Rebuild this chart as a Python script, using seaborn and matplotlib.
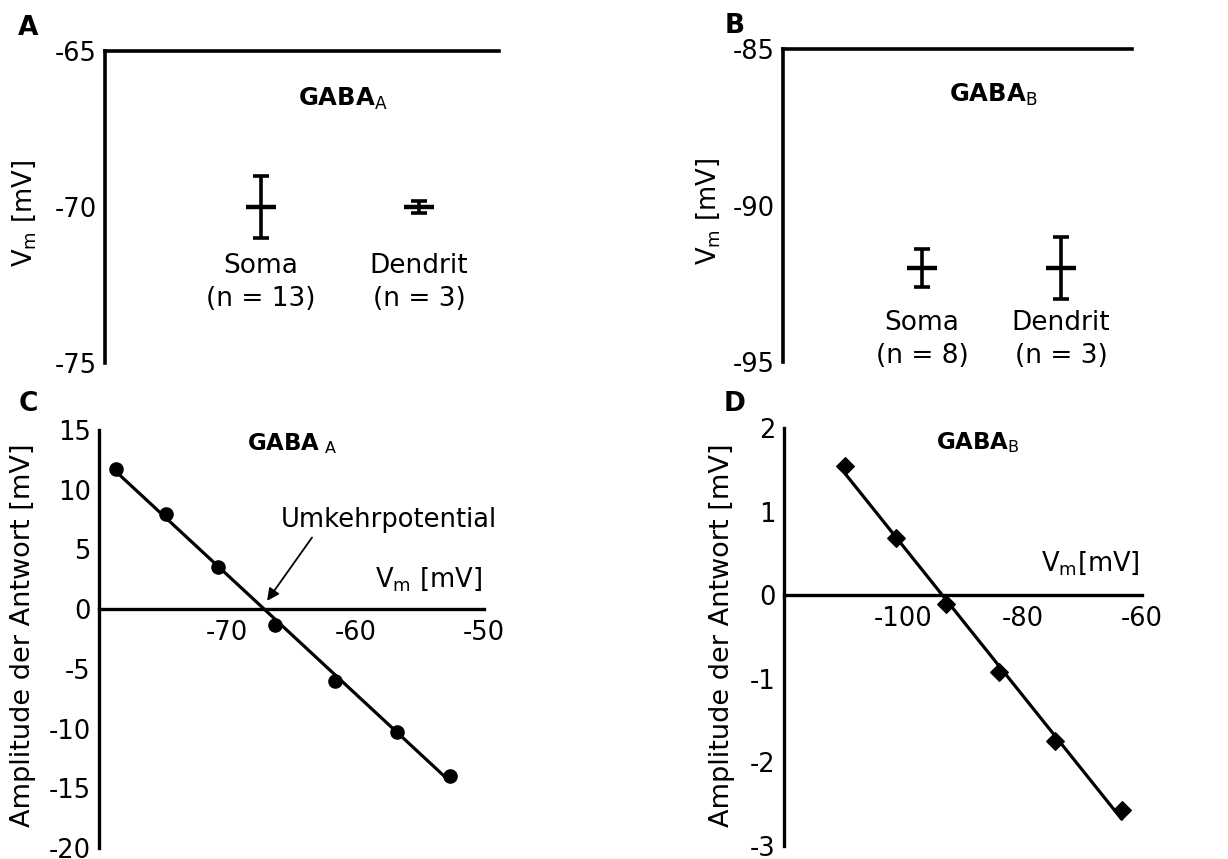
import numpy as np
import pandas as pd
import matplotlib
matplotlib.use("Agg")
import matplotlib.pyplot as plt
import seaborn as sns

# ---------------- data ----------------
sites = ["Soma", "Dendrit"]
n_a = [13, 3]
n_b = [8, 3]
mean_a = [-70.0, -70.0]
err_a = [1.0, 0.2]
mean_b = [-92.0, -92.0]
err_b = [0.6, 1.0]

vm_c = [-78.7, -74.8, -70.75, -66.25, -61.6, -56.8, -52.65]
amp_c = [11.75, 7.95, 3.5, -1.3, -6.0, -10.25, -13.95]

vm_d = [-109.7, -101.2, -92.8, -84.0, -74.5, -63.4]
amp_d = [1.54, 0.68, -0.11, -0.92, -1.75, -2.57]

ticks_a = [-75, -70, -65]
ticks_b = [-95, -90, -85]
yticks_c = [-20, -15, -10, -5, 0, 5, 10, 15]
xticks_c = [-70, -60, -50]
yticks_d = [-3, -2, -1, 0, 1, 2]
xticks_d = [-100, -80, -60]

sns.set_theme(style="white")
plt.rcParams["font.family"] = ["DejaVu Sans"]
plt.rcParams["mathtext.fontset"] = "dejavusans"
plt.rcParams["text.color"] = "black"
plt.rcParams["axes.labelcolor"] = "black"
plt.rcParams["xtick.color"] = "black"
plt.rcParams["ytick.color"] = "black"

W, H = 1228, 859
fig = plt.figure(figsize=(W / 100, H / 100), dpi=100)

def px_axes(l, r, t, b):
    return fig.add_axes([l / W, 1 - b / H, (r - l) / W, (b - t) / H])

TICK_FS = 18.5
VM_FS = 18.5
AMP_FS = 19.5
TXT_FS = 18.5
SPINE_LW = 2.6

def style_top(ax, yl, yt, xlim):
    ax.set_ylim(*yl)
    ax.set_xlim(*xlim)
    ax.set_yticks(yt)
    ax.set_yticklabels([str(v) for v in yt], fontsize=TICK_FS)
    ax.set_xticks([])
    for s in ["right", "bottom"]:
        ax.spines[s].set_visible(False)
    for s in ["left", "top"]:
        ax.spines[s].set_linewidth(SPINE_LW)
        ax.spines[s].set_color("black")
    ax.tick_params(axis="y", direction="in", length=4, width=2, pad=6, colors="black")
    ax.set_ylabel(r"V$_\mathrm{m}$ [mV]", fontsize=VM_FS)

def draw_err(ax, means, errs, ns, label_y):
    pos = np.arange(len(means))
    df = pd.DataFrame({"x": pos, "y": means})
    sns.scatterplot(data=df, x="x", y="y", marker="_", s=440, linewidth=3.2,
                    color="black", ax=ax, legend=False, zorder=3)
    ax.errorbar(pos, means, yerr=errs, fmt="none", ecolor="black",
                elinewidth=2.6, capsize=5.5, capthick=2.6, zorder=2)
    for p, s, n in zip(pos, sites, ns):
        ax.text(p, label_y, f"{s}\n(n = {n})", ha="center", va="center",
                fontsize=19, linespacing=1.35)
    ax.set_xlabel("")

# ---------------- Panel A ----------------
axA = px_axes(105, 499, 51, 363)
draw_err(axA, mean_a, err_a, n_a, -72.42)
style_top(axA, (-75, -65), ticks_a, (-0.987, 1.506))
axA.text(0.52, -66.55, r"$\mathbf{GABA}_\mathrm{A}$", ha="center", va="center", fontsize=17.5)
axA.yaxis.set_label_coords(-0.17, 0.48)

# ---------------- Panel B ----------------
axB = px_axes(783, 1132, 49, 362)
draw_err(axB, mean_b, err_b, n_b, -94.27)
style_top(axB, (-95, -85), ticks_b, (-1.0, 1.51))
axB.text(0.51, -86.47, r"$\mathbf{GABA}_\mathrm{B}$", ha="center", va="center", fontsize=17.5)
axB.yaxis.set_label_coords(-0.175, 0.48)

# ---------------- bottom panels ----------------
def style_bottom(ax, xl, yl, xt, yt):
    ax.spines["bottom"].set_position(("data", 0))
    ax.set_xlim(*xl)
    ax.set_ylim(*yl)
    ax.set_xticks(xt)
    ax.set_xticklabels([str(v) for v in xt], fontsize=TICK_FS)
    ax.set_yticks(yt)
    ax.set_yticklabels([str(v) for v in yt], fontsize=TICK_FS)
    for s in ["right", "top"]:
        ax.spines[s].set_visible(False)
    for s in ["left", "bottom"]:
        ax.spines[s].set_linewidth(2.4)
        ax.spines[s].set_color("black")
    ax.tick_params(axis="both", direction="in", length=4, width=2, colors="black",
                   labelsize=TICK_FS)
    ax.tick_params(axis="x", pad=8)
    ax.tick_params(axis="y", pad=6)
    ax.set_xlabel("")
    ax.set_ylabel("Amplitude der Antwort [mV]", fontsize=AMP_FS)

# Panel C
axC = px_axes(99, 484, 430, 848)
sns.regplot(x=vm_c, y=amp_c, ci=None, ax=axC, marker="o", color="black",
            scatter_kws={"s": 90, "edgecolors": "black", "linewidths": 1,
                         "zorder": 3, "alpha": 1},
            line_kws={"color": "black", "lw": 2.3})
style_bottom(axC, (-80, -50), (-20, 15), xticks_c, yticks_c)
axC.yaxis.set_label_coords(-0.163, 0.51)
axC.text(-65.0, 13.9, r"$\mathbf{GABA}_{\ \mathrm{A}}$", ha="center", va="center", fontsize=16.5)
axC.text(-54.3, 2.5, r"V$_\mathrm{m}$ [mV]", ha="center", va="center", fontsize=TXT_FS)
axC.text(-57.4, 7.5, "Umkehrpotential", ha="center", va="center", fontsize=TXT_FS)
axC.annotate("", xy=(-66.9, 0.7), xytext=(-63.4, 6.0),
             arrowprops=dict(arrowstyle="-|>", color="black", lw=1.3,
                             shrinkA=0, shrinkB=0, mutation_scale=18))

# Panel D
axD = px_axes(784, 1142, 428, 846)
sns.regplot(x=vm_d, y=amp_d, ci=None, ax=axD, marker="D", color="black",
            scatter_kws={"s": 80, "edgecolors": "black", "linewidths": 1,
                         "zorder": 3, "alpha": 1},
            line_kws={"color": "black", "lw": 2.3})
style_bottom(axD, (-120, -60), (-3, 2), xticks_d, yticks_d)
axD.yaxis.set_label_coords(-0.137, 0.505)
axD.text(-87.5, 1.82, r"$\mathbf{GABA}_\mathrm{B}$", ha="center", va="center", fontsize=16.5)
axD.text(-68.7, 0.38, r"V$_\mathrm{m}$[mV]", ha="center", va="center", fontsize=TXT_FS)

# panel letters
for lab, x, y in [("A", 28, 28), ("B", 735, 26), ("C", 28, 404), ("D", 735, 404)]:
    fig.text(x / W, 1 - y / H, lab, ha="center", va="center", fontsize=19, fontweight="bold")

fig.savefig("out.png", dpi=100)
